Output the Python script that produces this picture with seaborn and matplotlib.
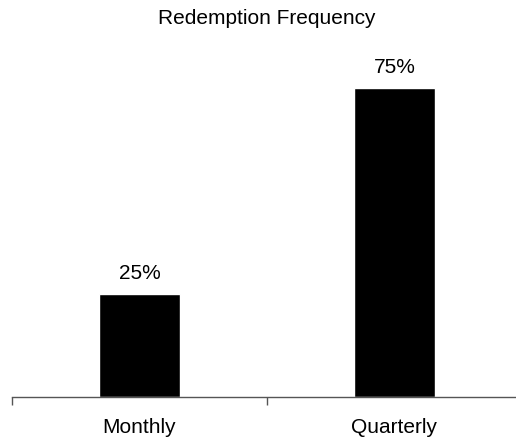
import matplotlib
matplotlib.use("Agg")
import matplotlib.pyplot as plt
import seaborn as sns
import pandas as pd

# data
categories = ["Monthly", "Quarterly"]
shares = [0.25, 0.75]
value_labels = ["25%", "75%"]

sns.set_theme(style="white")
plt.rcParams["font.family"] = ["Liberation Sans", "DejaVu Sans"]

W, H = 516, 441
fig = plt.figure(figsize=(W / 100, H / 100), dpi=100)

# axes placement in pixels: baseline at y=397, 412 px per unit, 255 px per category
base_y = 397
px_per_unit = 412
ymax = 0.85
ax = fig.add_axes([12 / W, (H - base_y) / H, 510 / W, ymax * px_per_unit / H])

df = pd.DataFrame({"cat": categories, "val": shares})
sns.barplot(data=df, x="cat", y="val", color="black", width=0.32,
            saturation=1, ax=ax)

for i, (v, lab) in enumerate(zip(shares, value_labels)):
    ax.text(i, v + 0.027, lab, ha="center", va="bottom", fontsize=15, color="black")

ax.set_xlim(-0.5, 1.5)
ax.set_ylim(0, ymax)
ax.set_xlabel("")
ax.set_ylabel("")
ax.set_yticks([])

for s in ["top", "right", "left"]:
    ax.spines[s].set_visible(False)
ax.spines["bottom"].set_color("#555555")
ax.spines["bottom"].set_linewidth(1)

ax.set_xticks([0, 1])
ax.set_xticklabels(categories, fontsize=15)
ax.tick_params(axis="x", which="major", length=0, pad=15, labelcolor="black")
ax.set_xticks([-0.5, 0.5], minor=True)
ax.tick_params(axis="x", which="minor", length=6, width=1, color="#555555",
               direction="out", bottom=True)

fig.text(267 / W, 1 - 18 / H, "Redemption Frequency", ha="center", va="center",
         fontsize=15, color="black")

fig.savefig("out.png", dpi=100)
